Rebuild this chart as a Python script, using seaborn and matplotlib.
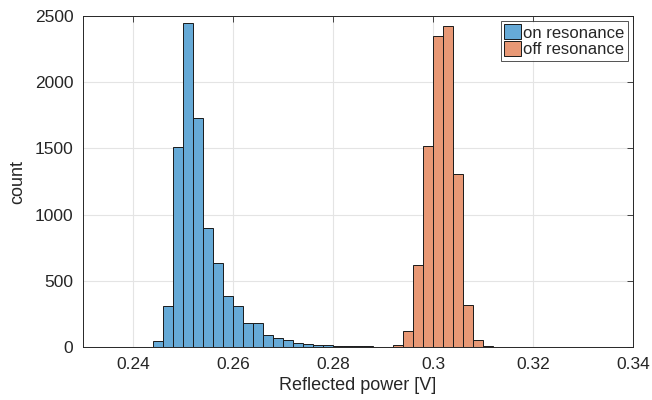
import numpy as np
import pandas as pd
import matplotlib
matplotlib.use("Agg")
import matplotlib.pyplot as plt
from matplotlib.patches import Patch
import seaborn as sns

# ---- data ----
on_bin_left = [0.244, 0.246, 0.248, 0.250, 0.252, 0.254, 0.256, 0.258, 0.260,
               0.262, 0.264, 0.266, 0.268, 0.270, 0.272, 0.274, 0.276, 0.278,
               0.280, 0.282, 0.284, 0.286, 0.288]
on_counts = [45, 307, 1508, 2445, 1729, 900, 633, 382, 307,
             178, 178, 93, 68, 50, 33, 23, 18, 15,
             8, 7, 6, 5, 2]

off_bin_left = [0.292, 0.294, 0.296, 0.298, 0.300, 0.302, 0.304, 0.306, 0.308, 0.310]
off_counts = [12, 118, 623, 1515, 2349, 2425, 1304, 319, 50, 5]

bin_width = 0.002
series_names = ["on resonance", "off resonance"]
x_ticks = [0.24, 0.26, 0.28, 0.30, 0.32, 0.34]
x_tick_labels = ["0.24", "0.26", "0.28", "0.3", "0.32", "0.34"]
y_ticks = [0, 500, 1000, 1500, 2000, 2500]

# ---- build table ----
df = pd.concat([
    pd.DataFrame({"x": np.array(on_bin_left) + bin_width / 2, "count": on_counts,
                  "group": series_names[0]}),
    pd.DataFrame({"x": np.array(off_bin_left) + bin_width / 2, "count": off_counts,
                  "group": series_names[1]}),
], ignore_index=True)

lo = min(on_bin_left + off_bin_left)
hi = max(on_bin_left + off_bin_left) + bin_width

sns.set_style("white")
plt.rcParams["font.family"] = ["Liberation Sans", "DejaVu Sans"]

blue = (0.4, 0.668, 0.845)
orange = (0.91, 0.595, 0.459)
palette = {series_names[0]: blue, series_names[1]: orange}

fig = plt.figure(figsize=(6.52, 4.0), dpi=100)
ax = fig.add_axes([83 / 652, 1 - 347 / 400, (633 - 83) / 652, (347 - 16) / 400])

sns.histplot(data=df, x="x", weights="count", hue="group",
             binwidth=bin_width, binrange=(lo, hi),
             palette=palette, alpha=1.0, edgecolor="#1a1a1a", linewidth=0.7,
             multiple="layer", legend=False, ax=ax)

# hide empty bins (MATLAB draws nothing there)
for p in ax.patches:
    if p.get_height() <= 0:
        p.set_visible(False)

ax.set_xlim(0.23, 0.34)
ax.set_ylim(0, 2500)
ax.set_xticks(x_ticks)
ax.set_xticklabels(x_tick_labels)
ax.set_yticks(y_ticks)
ax.set_xlabel("Reflected power [V]", fontsize=13, color="#262626", labelpad=4)
ax.set_ylabel("count", fontsize=13, color="#262626", labelpad=6)
ax.grid(True, color="#e4e4e4", linewidth=0.8)
ax.set_axisbelow(True)
ax.tick_params(direction="in", length=4, width=0.6, top=True, right=True,
               labelsize=12.5, colors="#262626", pad=7)
for s in ax.spines.values():
    s.set_visible(True)
    s.set_color("#262626")
    s.set_linewidth(0.7)

handles = [Patch(facecolor=blue, edgecolor="#1a1a1a", linewidth=0.7),
           Patch(facecolor=orange, edgecolor="#1a1a1a", linewidth=0.7)]
leg = ax.legend(handles, series_names, loc="upper right", fontsize=12,
                frameon=True, fancybox=False, edgecolor="#262626",
                handlelength=1.0, handleheight=1.0, handletextpad=0.15,
                borderpad=0.2, labelspacing=0.05, borderaxespad=0.3)
leg.get_frame().set_linewidth(0.7)

fig.savefig("out.png", dpi=100, facecolor="white")
